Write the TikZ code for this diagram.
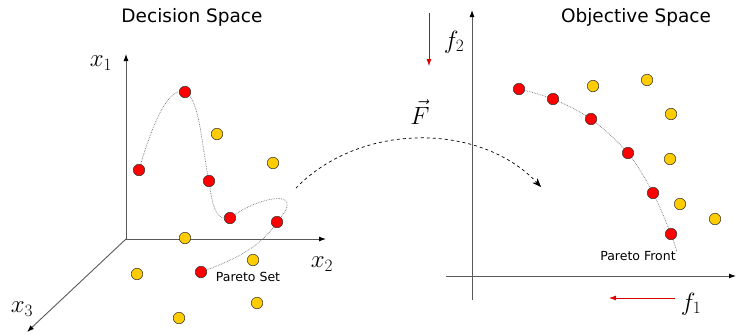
\documentclass[tikz,border=0pt]{standalone}
\usepackage{amsmath,amssymb}
\usepackage{fontspec}
\newfontfamily\labelfont{DejaVu Sans}
\usetikzlibrary{arrows.meta, positioning}

\definecolor{ptred}{HTML}{FF0000}
\definecolor{ptyellow}{HTML}{FFCC00}

\begin{document}
\begin{tikzpicture}[x=1pt, y=-1pt, >={Latex[length=7pt,width=5pt,color=black]},
  axis/.style={->, draw=black!65, line width=0.9pt},
  pareto/.style={circle, draw=black!80, fill=ptred, line width=0.5pt, minimum size=11.5pt, inner sep=0pt},
  other/.style={circle, draw=black!80, fill=ptyellow, line width=0.5pt, minimum size=11.5pt, inner sep=0pt},
  trace/.style={draw=black!55, densely dotted, line width=0.7pt},
  title/.style={font=\labelfont\fontsize{18.5}{20}\selectfont},
  small/.style={font=\labelfont\fontsize{12.5}{14}\selectfont},
  var/.style={font=\fontsize{24}{26}\selectfont},
  sense/.style={->, draw=ptred!85!black, line width=0.8pt, >={Latex[length=7pt,width=5pt]}}]
  \useasboundingbox (0,0) rectangle (737,335);

  % decision space
  \node[title] (ds) at (192,17) {Decision Space};
  \coordinate (o) at (126,239);
  \coordinate (x1end) at (126,54);
  \coordinate (x2end) at (326,239);
  \coordinate (x3end) at (27,332);
  \draw[axis] (o) -- (x1end);
  \draw[axis] (o) -- (x2end);
  \draw[axis] (o) -- (x3end);
  \node[var] (x1) at (101,63) {$x_1$};
  \node[var] (x2) at (322,264) {$x_2$};
  \node[var] (x3) at (22,309) {$x_3$};

  \coordinate (a1) at (139,170);
  \coordinate (a2) at (185,92);
  \coordinate (a3) at (209,181);
  \coordinate (a4) at (230,218);
  \coordinate (a5) at (277,222);
  \coordinate (a6) at (201,272);
  \draw[trace] (a1) .. controls (152,125) and (168,86) .. (a2)
    .. controls (200,98) and (202,150) .. (a3)
    .. controls (212,205) and (216,222) .. (a4)
    .. controls (255,198) and (310,185) .. (a5)
    .. controls (258,252) and (222,264) .. (a6);
  \foreach \p in {a1,a2,a3,a4,a5,a6}
    \node[pareto] (n\p) at (\p) {};
  \node[other] (b1) at (217,134) {};
  \node[other] (b2) at (273,163) {};
  \node[other] (b3) at (185,238) {};
  \node[other] (b4) at (253,260) {};
  \node[other] (b5) at (137,274) {};
  \node[other] (b6) at (257,303) {};
  \node[other] (b7) at (179,318) {};
  \node[small] (ps) at (248,277) {Pareto Set};

  % mapping
  \coordinate (fstart) at (296,188);
  \coordinate (fend) at (541,187);
  \draw[->, dashed, line width=0.7pt, >={Stealth[length=9pt,width=7pt]}]
    (fstart) .. controls (360,122) and (480,122) .. (fend);
  \node[var] (F) at (420,112) {$\vec{F}$};

  % objective space
  \node[title] (os) at (636,17) {Objective Space};
  \coordinate (f2start) at (472,300);
  \coordinate (f2end) at (472,10);
  \coordinate (f1start) at (446,276);
  \coordinate (f1end) at (736,276);
  \draw[axis] (f2start) -- (f2end);
  \draw[axis] (f1start) -- (f1end);
  \node[var] (f2) at (454,42) {$f_2$};
  \node[var] (f1) at (691,304) {$f_1$};
  \coordinate (s2a) at (429,13);
  \coordinate (s2b) at (429,66);
  \coordinate (s1a) at (675,298);
  \coordinate (s1b) at (609,298);
  \draw[sense] (s2a) -- (s2b);
  \draw[sense] (s1a) -- (s1b);

  \coordinate (c1) at (519,89);
  \coordinate (c2) at (553,99);
  \coordinate (c3) at (591,119);
  \coordinate (c4) at (628,153);
  \coordinate (c5) at (653,193);
  \coordinate (c6) at (671,234);
  \coordinate (c7) at (677,252);
  \draw[trace] plot[smooth] coordinates {(c1) (c2) (c3) (c4) (c5) (c6) (c7)};
  \foreach \p in {c1,c2,c3,c4,c5,c6}
    \node[pareto] (n\p) at (\p) {};
  \node[other] (d1) at (593,86) {};
  \node[other] (d2) at (647,80) {};
  \node[other] (d3) at (671,114) {};
  \node[other] (d4) at (670,159) {};
  \node[other] (d5) at (680,204) {};
  \node[other] (d6) at (715,219) {};
  \node[small] (pf) at (638,256) {Pareto Front};
\end{tikzpicture}
\end{document}
